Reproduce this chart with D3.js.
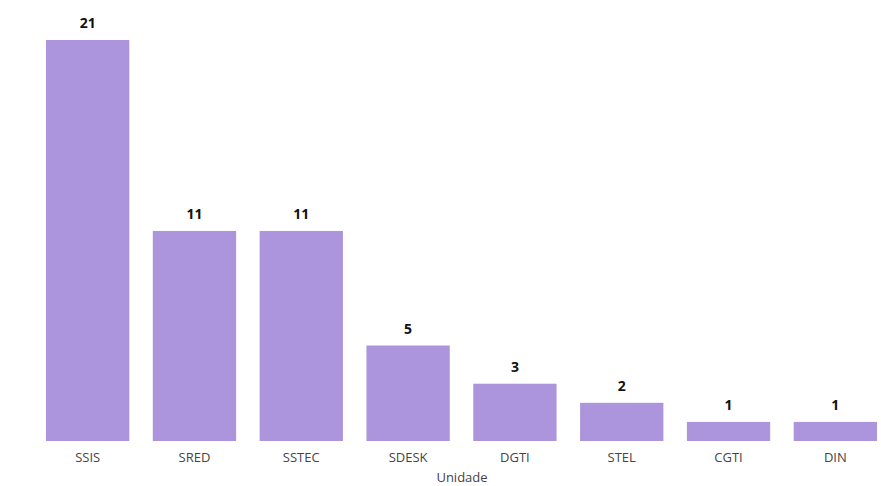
<!DOCTYPE html>
<html><head><meta charset="utf-8">
<script src="https://cdn.jsdelivr.net/npm/d3@7"></script>
<style>body{margin:0;background:#fff}svg{display:block}</style>
</head><body>
<svg id="c" width="881" height="486"></svg>
<script>
const categories = ["SSIS","SRED","SSTEC","SDESK","DGTI","STEL","CGTI","DIN"];
const values = [21,11,11,5,3,2,1,1];
const axisTitle = "Unidade";

const svg = d3.select("#c");
const x = d3.scaleBand().domain(categories).range([46,877]).paddingInner(0.22).paddingOuter(0);
const y = d3.scaleLinear().domain([0,21]).range([441,40]);
const font = "'Open Sans', 'Segoe UI', sans-serif";

svg.selectAll("rect.bar").data(categories).join("rect")
  .attr("class","bar")
  .attr("x",d=>x(d)).attr("width",x.bandwidth())
  .attr("y",(d,i)=>y(values[i])).attr("height",(d,i)=>y(0)-y(values[i]))
  .attr("fill","#ac95dc");

svg.selectAll("text.val").data(categories).join("text")
  .attr("class","val")
  .attr("x",d=>x(d)+x.bandwidth()/2)
  .attr("y",(d,i)=>y(values[i])-12)
  .attr("text-anchor","middle")
  .attr("font-family",font).attr("font-weight","bold").attr("font-size",14)
  .attr("fill","#111")
  .text((d,i)=>values[i]);

const ax = svg.append("g").attr("transform","translate(0,441)")
  .call(d3.axisBottom(x).tickSize(0).tickPadding(12));
ax.select(".domain").remove();
ax.selectAll("text").attr("font-family",font).attr("font-size",13).attr("fill","#444");

svg.append("text").attr("x",462).attr("y",482)
  .attr("text-anchor","middle").attr("font-family",font).attr("font-size",13)
  .attr("fill","#444").text(axisTitle);
</script>
</body></html>
